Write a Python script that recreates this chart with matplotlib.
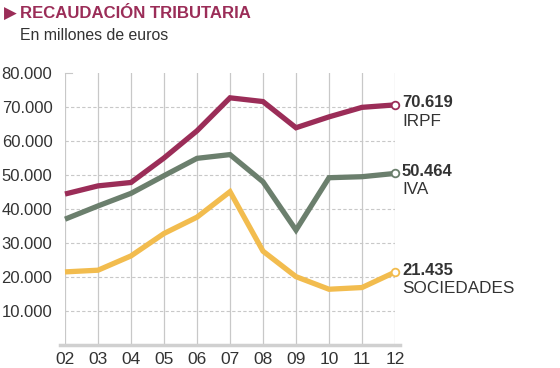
import matplotlib
matplotlib.use("Agg")
import matplotlib.pyplot as plt

plt.rcParams['font.family'] = ['Liberation Sans', 'DejaVu Sans']

years = ["02", "03", "04", "05", "06", "07", "08", "09", "10", "11", "12"]
irpf = [44400, 46800, 47800, 55000, 63000, 72700, 71600, 63900, 67100, 69900, 70619]
iva = [37000, 40900, 44600, 49800, 54900, 56000, 48000, 33800, 49200, 49500, 50464]
sociedades = [21500, 22000, 26200, 32800, 37600, 45100, 27600, 20100, 16400, 16900, 21435]
series_names = ["IRPF", "IVA", "SOCIEDADES"]
end_labels = ["70.619", "50.464", "21.435"]
yticks = [10000, 20000, 30000, 40000, 50000, 60000, 70000, 80000]
ytick_labels = ["10.000", "20.000", "30.000", "40.000", "50.000", "60.000", "70.000", "80.000"]
colors = ["#9b2d58", "#6b7f6d", "#f2bc4e"]

fig = plt.figure(figsize=(5.6, 3.68), dpi=100)
ax = fig.add_axes([65/560, 1-345/368, 330/560, 272/368])
x = list(range(len(years)))
ax.set_xlim(0, len(years)-1)
ax.set_ylim(0, 80000)

# grid
for yv in yticks[:-1]:
    ax.axhline(yv, color="#c8c8c8", lw=0.8, ls=(0, (3, 2)), zorder=0)
for xv in x:
    ax.axvline(xv, color="#c8c8c8", lw=0.9, zorder=0)
ax.plot([0, 0.2], [80000, 80000], color="#c8c8c8", lw=0.8, clip_on=False, zorder=0)
ax.plot([-0.15, len(years)-1+0.15], [0, 0], color="#d0d0d0", lw=2.5, clip_on=False, zorder=1)

for s in ax.spines.values():
    s.set_visible(False)

for vals, c in zip([irpf, iva, sociedades], colors):
    ax.plot(x, vals, color=c, lw=3.8, solid_joinstyle="miter", solid_capstyle="butt", zorder=3, clip_on=False)
    ax.plot([x[-1]], [vals[-1]], marker="o", ms=5.5, mfc="white", mec=c, mew=1.3, zorder=4, clip_on=False)

ax.set_yticks(yticks)
ax.set_yticklabels(ytick_labels, fontsize=12, color="#333333")
ax.set_xticks(x)
ax.set_xticklabels(years, fontsize=12.5, color="#333333")
ax.tick_params(axis="both", length=0)
ax.tick_params(axis="y", pad=9)
ax.tick_params(axis="x", pad=5)

for vals, name, lab in zip([irpf, iva, sociedades], series_names, end_labels):
    ax.annotate(lab, (x[-1], vals[-1]), xytext=(5, 1.5), textcoords="offset points",
                fontsize=12, fontweight="bold", color="#333333", va="center", ha="left",
                annotation_clip=False)
    ax.annotate(name, (x[-1], vals[-1]), xytext=(5, -6.5), textcoords="offset points",
                fontsize=12.3, color="#333333", va="top", ha="left", annotation_clip=False)

fig.text(4/560, 1-14/368, "\u25B6", fontsize=12, color=colors[0], va="center", ha="left")
fig.text(20/560, 1-14/368, "RECAUDACIÓN TRIBUTARIA", fontsize=12.1, fontweight="bold",
         color=colors[0], va="center", ha="left")
fig.text(20/560, 1-36/368, "En millones de euros", fontsize=11.4, color="#333333", va="center", ha="left")

fig.savefig("out.png", dpi=100, facecolor="white")
